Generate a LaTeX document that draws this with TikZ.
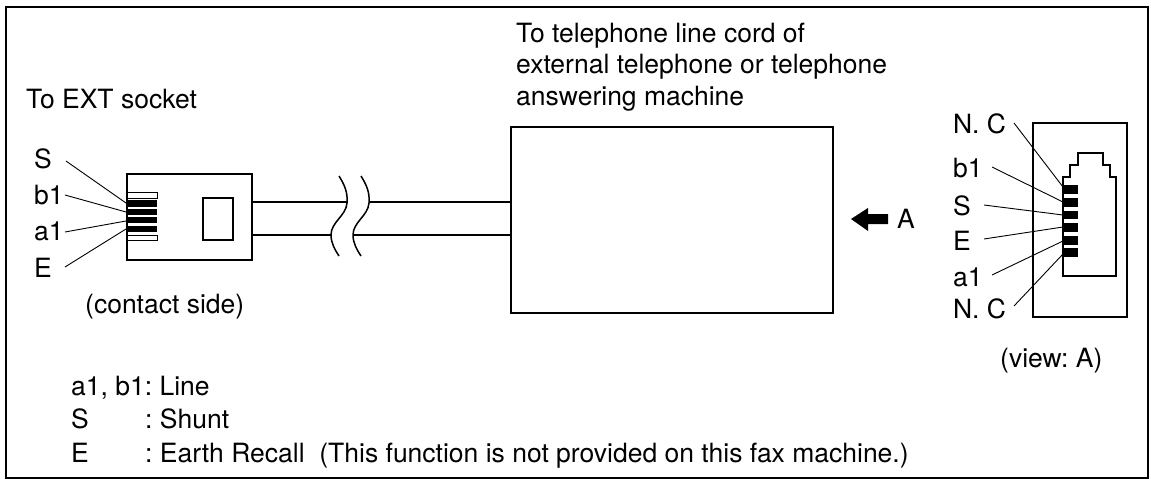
\documentclass[tikz,border=0pt]{standalone}
\usepackage{fontspec}
\setmainfont{TeX Gyre Heros}
\frenchspacing
\tikzset{
  lbl/.style={inner sep=0pt,anchor=base west,font=\fontsize{26.5}{30}\selectfont},
  ln/.style={line width=1.5pt,black},
  lead/.style={line width=0.9pt,black},
  pin/.style={fill=black,draw=none},
  rectbox/.style={draw,ln,inner sep=0pt,anchor=north west}
}
\begin{document}
\begin{tikzpicture}[x=1pt,y=-1pt]
\useasboundingbox (0,0) rectangle (1151,479);
\fill[white] (0,0) rectangle (1151,479);
\node[rectbox,minimum width=1142pt,minimum height=471pt] (frame) at (5,6) {};
% text
\node[lbl] (t1) at (516,42) {To telephone line cord of};
\node[lbl] (t2) at (516,73) {external telephone or telephone};
\node[lbl] (t3) at (516,105) {answering machine};
\node[lbl] (t4) at (26,108) {To EXT socket};
\node[lbl] (ls) at (34,168) {S};
\node[lbl] (lb) at (34,204) {b1};
\node[lbl] (la) at (34,240) {a1};
\node[lbl] (le) at (34,277) {E};
\node[lbl] (t5) at (85,313) {(contact side)};
\node[lbl] (k1) at (71,395) {a1, b1: Line};
\node[lbl] (k2) at (71,428) {S};
\node[lbl] (k2b) at (145,428) {: Shunt};
\node[lbl] (k3) at (71,462) {E};
\node[lbl] (k3b) at (145,462) {: Earth Recall\ \ (This function is not provided on this fax machine.)};
\node[lbl] (rn1) at (953,133) {N. C};
\node[lbl] (rb) at (953,177) {b1};
\node[lbl] (rs) at (953,215) {S};
\node[lbl] (re) at (953,250) {E};
\node[lbl] (ra) at (953,286) {a1};
\node[lbl] (rn2) at (953,318) {N. C};
\node[lbl] (t6) at (1000,367) {(view: A)};
\node[lbl] (aa) at (897,228) {A};
% plug
\node[rectbox,minimum width=125pt,minimum height=86pt] (plug) at (126,173) {};
\node[rectbox,minimum width=30pt,minimum height=42pt] (latch) at (202,197) {};
\draw[line width=0.9pt] (127,192) rectangle (157,198);
\draw[line width=0.9pt] (127,235) rectangle (157,240);
\fill[pin] (126,200) rectangle (157,207);
\fill[pin] (126,209) rectangle (157,215);
\fill[pin] (126,217) rectangle (157,223);
\fill[pin] (126,226) rectangle (157,232);
\coordinate (ps) at (126,203);
\coordinate (pb) at (126,212);
\coordinate (pa) at (126,221);
\coordinate (pe) at (126,229);
\coordinate (ss) at (66,161);
\coordinate (sb) at (65,195);
\coordinate (sa) at (65,232);
\coordinate (se) at (65,267);
\draw[lead] (ss) -- (ps);
\draw[lead] (sb) -- (pb);
\draw[lead] (sa) -- (pa);
\draw[lead] (se) -- (pe);
% box
\node[rectbox,minimum width=322pt,minimum height=186pt] (box) at (510,126) {};
% cable
\coordinate (c1a) at (251,202);
\coordinate (c1b) at (347,202);
\coordinate (c1c) at (369,202);
\coordinate (c1d) at (510,202);
\coordinate (c2a) at (251,235);
\coordinate (c2b) at (331,235);
\coordinate (c2c) at (353,235);
\coordinate (c2d) at (510,235);
\draw[ln] (c1a) -- (c1b) (c1c) -- (c1d) (c2a) -- (c2b) (c2c) -- (c2d);
\draw[ln] (339,176) .. controls (344,184) and (348,192) .. (347,203) .. controls (346,216) and (331,222) .. (331,235) .. controls (331,243) and (335,250) .. (339,256);
\draw[ln] (361,176) .. controls (366,184) and (370,192) .. (369,203) .. controls (368,216) and (353,222) .. (353,235) .. controls (353,243) and (357,250) .. (361,256);
% arrow
\fill (851,219) -- (868,208) -- (868,214) -- (888,214) -- (888,224) -- (868,224) -- (868,231) -- cycle;
% socket
\node[rectbox,minimum width=94pt,minimum height=194pt] (sock) at (1032,122) {};
\draw[ln] (1063,276) -- (1116,276) -- (1116,177) -- (1110,177) -- (1110,165) -- (1103,165) -- (1103,153) -- (1078,153) -- (1078,165) -- (1070,165) -- (1070,177) -- (1063,177) -- cycle;
\fill[pin] (1063,185) rectangle (1078,194);
\fill[pin] (1063,198) rectangle (1078,207);
\fill[pin] (1063,211) rectangle (1078,219);
\fill[pin] (1063,223) rectangle (1078,232);
\fill[pin] (1063,236) rectangle (1078,245);
\fill[pin] (1063,248) rectangle (1078,257);
\coordinate (q1) at (1063,187);
\coordinate (q2) at (1063,202);
\coordinate (q3) at (1063,215);
\coordinate (q4) at (1063,227);
\coordinate (q5) at (1063,241);
\coordinate (q6) at (1063,254);
\coordinate (r1) at (1014,123);
\coordinate (r2) at (992,167);
\coordinate (r3) at (984,205);
\coordinate (r4) at (984,239);
\coordinate (r5) at (992,275);
\coordinate (r6) at (1014,306);
\draw[lead] (r1) -- (q1);
\draw[lead] (r2) -- (q2);
\draw[lead] (r3) -- (q3);
\draw[lead] (r4) -- (q4);
\draw[lead] (r5) -- (q5);
\draw[lead] (r6) -- (q6);
\end{tikzpicture}
\end{document}
